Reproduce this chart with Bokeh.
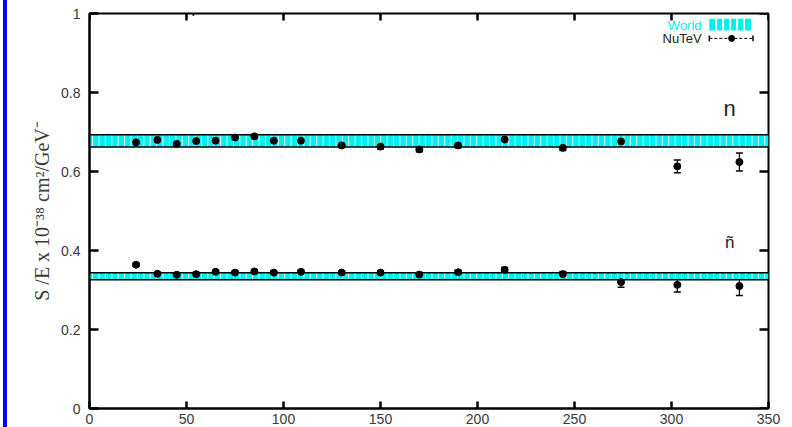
import numpy as np
from bokeh.plotting import figure
from bokeh.models import (ColumnDataSource, Whisker, TeeHead, FixedTicker,
                          Label, Spacer, Range1d)
from bokeh.layouts import row
from bokeh.core.properties import value
from bokeh.embed import file_html
from bokeh.resources import INLINE

# ---- data ----
energy = [24, 35, 45, 55, 65, 75, 85, 95, 109, 130, 150, 170, 190, 214, 244, 274, 303, 335]
n_val = [0.674, 0.680, 0.670, 0.677, 0.678, 0.686, 0.689, 0.678, 0.678, 0.666, 0.663, 0.656,
         0.666, 0.681, 0.660, 0.676, 0.613, 0.624]
n_err = [0.006, 0.005, 0.005, 0.005, 0.005, 0.004, 0.004, 0.005, 0.005, 0.005, 0.006, 0.006,
         0.006, 0.007, 0.007, 0.010, 0.016, 0.023]
nbar_val = [0.364, 0.341, 0.3385, 0.340, 0.346, 0.344, 0.347, 0.344, 0.346, 0.344, 0.344, 0.339,
            0.345, 0.351, 0.340, 0.320, 0.313, 0.310]
nbar_err = [0.004, 0.004, 0.004, 0.004, 0.004, 0.004, 0.004, 0.004, 0.004, 0.005, 0.005, 0.005,
            0.005, 0.006, 0.007, 0.013, 0.018, 0.024]
world_n = [0.662, 0.693]
world_nbar = [0.326, 0.3435]
x_ticks = [0, 50, 100, 150, 200, 250, 300, 350]
y_ticks = [0, 0.2, 0.4, 0.6, 0.8, 1]
y_tick_labels = ["0", "0.2", "0.4", "0.6", "0.8", "1"]

FONT = "Liberation Sans"
GRAY = "#3a3a3a"
CYAN = "#00f0f0"
XMAX, YMAX = 350, 1.0
TICK_X = XMAX * 9 / 679   # 9 px in data units (y-axis ticks)
TICK_Y = YMAX * 7 / 395   # 7 px in data units (x-axis ticks)

p = figure(width=785, height=427, output_backend="svg", toolbar_location=None,
           x_range=Range1d(0, XMAX), y_range=Range1d(0, YMAX),
           min_border_left=82, min_border_right=24, min_border_top=13, min_border_bottom=19)
p.grid.visible = False
p.background_fill_color = "white"
p.border_fill_color = "white"
p.outline_line_color = "black"
p.outline_line_width = 2

# world bands (cyan with white vertical texture)
stripe_x = np.arange(1.6, XMAX, 3.3)
for lo, hi in (world_n, world_nbar):
    p.quad(left=0, right=XMAX, bottom=lo, top=hi, fill_color=CYAN, line_color=None)
    p.segment(x0=stripe_x, x1=stripe_x, y0=lo, y1=hi, line_color="white", line_width=1, line_alpha=0.9)
    p.segment(x0=[0, 0], x1=[XMAX, XMAX], y0=[lo, hi], y1=[lo, hi], line_color="black", line_width=1.6)

# NuTeV points
for vals, errs in ((n_val, n_err), (nbar_val, nbar_err)):
    src = ColumnDataSource(dict(x=energy, y=vals,
                                lo=[v - e for v, e in zip(vals, errs)],
                                hi=[v + e for v, e in zip(vals, errs)]))
    w = Whisker(source=src, base="x", lower="lo", upper="hi", line_color="black", line_width=1.2,
                upper_head=TeeHead(size=7, line_color="black", line_width=1.5),
                lower_head=TeeHead(size=7, line_color="black", line_width=1.5))
    p.add_layout(w)
    p.scatter("x", "y", source=src, size=7, marker="circle", fill_color="black", line_color="black")

# left / bottom axes with inward ticks
for ax, tl in ((p.xaxis[0], 7), (p.yaxis[0], 9)):
    ax.axis_line_color = "black"
    ax.axis_line_width = 2
    ax.major_tick_line_color = "black"
    ax.major_tick_line_width = 2.5
    ax.minor_tick_line_color = None
    ax.major_tick_in = tl
    ax.major_tick_out = 0
    ax.major_label_text_font = FONT
    ax.major_label_text_font_size = "14px"
    ax.major_label_text_color = GRAY
p.xaxis.ticker = FixedTicker(ticks=x_ticks)
p.yaxis.ticker = FixedTicker(ticks=y_ticks)
p.yaxis.major_label_overrides = {t: s for t, s in zip(y_ticks, y_tick_labels)}
p.xaxis.major_label_standoff = 5
p.yaxis.major_label_standoff = 9
p.yaxis.axis_label = "S /E x 10\u207b\u00b3\u2078 cm\u00b2/GeV\u207b"
p.yaxis.axis_label_text_font = "Liberation Serif"
p.yaxis.axis_label_text_font_style = "normal"
p.yaxis.axis_label_text_font_size = "20px"
p.yaxis.axis_label_text_color = GRAY
p.yaxis.axis_label_standoff = 5

# mirrored inward ticks on top and right
tick_src_x = ColumnDataSource(dict(x=x_ticks, t0=[YMAX] * len(x_ticks),
                                   t1=[YMAX - TICK_Y] * len(x_ticks)))
tick_src_y = ColumnDataSource(dict(y=y_ticks, r0=[XMAX] * len(y_ticks),
                                   r1=[XMAX - TICK_X] * len(y_ticks)))
p.segment(x0="x", x1="x", y0="t0", y1="t1", source=tick_src_x, line_color="black", line_width=2.5)
p.segment(x0="r0", x1="r1", y0="y", y1="y", source=tick_src_y, line_color="black", line_width=2.5)

# labels n, n-bar
p.text(x=[330], y=[0.76], text=["n"], text_font=value(FONT), text_font_size="22px",
       text_align="center", text_baseline="middle", text_color="#222222")
p.text(x=[330], y=[0.42], text=["ñ"], text_font=value(FONT), text_font_size="17px",
       text_align="center", text_baseline="middle", text_color="#222222")

# legend (manual)
p.text(x=[315.5], y=[0.970], text=["World"], text_font=value(FONT), text_font_size="13px",
       text_align="right", text_baseline="middle", text_color=CYAN)
p.quad(left=[319.5], right=[341], bottom=[0.957], top=[0.987], fill_color=CYAN, line_color=None)
leg_x = np.arange(323.0, 341, 3.6)
p.segment(x0=leg_x, x1=leg_x, y0=0.957, y1=0.987, line_color="white", line_width=2)
p.text(x=[315.5], y=[0.937], text=["NuTeV"], text_font=value(FONT), text_font_size="13px",
       text_align="right", text_baseline="middle", text_color="#222222")
p.segment(x0=[319.5], x1=[342], y0=[0.937], y1=[0.937], line_color="black", line_width=1,
          line_dash="3 2")
p.segment(x0=[319.5, 342], x1=[319.5, 342], y0=[0.93, 0.93], y1=[0.944, 0.944],
          line_color="black", line_width=1.5)
p.scatter(x=[331], y=[0.937], size=6, marker="circle", fill_color="black", line_color="black")

# partially visible title glyph at the top edge
p.add_layout(Label(x=54, y=1.015, text="\u03bd", text_font="Liberation Serif",
                   text_font_style="italic", text_font_size="26px", text_align="center",
                   text_baseline="alphabetic", text_color="#111111"))

bar = Spacer(width=4, height=427, styles={"background-color": "#0000ff"})
gap = Spacer(width=3, height=427)
layout = row(gap, bar, p)

open("out.html", "w").write(file_html(layout, INLINE))
